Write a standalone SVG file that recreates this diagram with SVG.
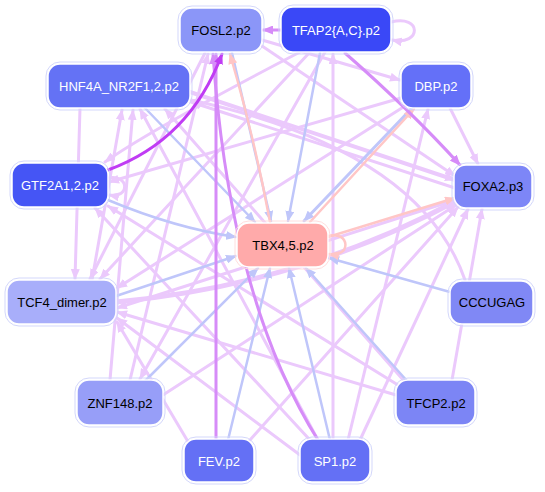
<svg xmlns="http://www.w3.org/2000/svg" width="545" height="492" viewBox="0 0 545 492">
<style>
text{font-family:"Liberation Sans",Arial,sans-serif;font-size:13px;text-anchor:middle;dominant-baseline:central}
.n rect.o{fill:none;stroke:#d3d7fb;stroke-width:1}
.n rect.i{stroke:#ffffff;stroke-width:1.5}
.w{fill:#ffffff}
.k{fill:#000000}
#edges path{fill:none;stroke-linecap:round}
.eb{stroke:#bfc6fa;stroke-width:2.5}
.es{stroke:#ffc6c6;stroke-width:2.5}
.ev{stroke:#d68cf8;stroke-width:3}
.ep{stroke:#c03cf4;stroke-width:3}
.el{stroke:#ebc9fc;stroke-width:3}
</style>
<defs>
<marker id="mb" markerUnits="userSpaceOnUse" markerWidth="11" markerHeight="9" refX="10" refY="4.5" orient="auto"><path d="M0,0L11,4.5L0,9z" fill="#bfc6fa"/></marker>
<marker id="ms" markerUnits="userSpaceOnUse" markerWidth="11" markerHeight="9" refX="10" refY="4.5" orient="auto"><path d="M0,0L11,4.5L0,9z" fill="#ffc6c6"/></marker>
<marker id="mv" markerUnits="userSpaceOnUse" markerWidth="11" markerHeight="9" refX="10" refY="4.5" orient="auto"><path d="M0,0L11,4.5L0,9z" fill="#d68cf8"/></marker>
<marker id="mp" markerUnits="userSpaceOnUse" markerWidth="11" markerHeight="9" refX="10" refY="4.5" orient="auto"><path d="M0,0L11,4.5L0,9z" fill="#c03cf4"/></marker>
<marker id="ml" markerUnits="userSpaceOnUse" markerWidth="11" markerHeight="9" refX="10" refY="4.5" orient="auto"><path d="M0,0L11,4.5L0,9z" fill="#ebc9fc"/></marker>
</defs>
<g id="edges">
<path class="el" marker-end="url(#ml)" d="M391,22C422,14 422,46 392,40"/>
<path class="el" marker-end="url(#ml)" d="M108,178C130,174 130,199 109,195"/>
<path class="el" marker-end="url(#ml)" d="M333,440L333,54"/>
<path class="el" marker-end="url(#ml)" d="M318,440L140,109"/>
<path class="el" marker-end="url(#ml)" d="M300,455L117,318"/>
<path class="el" marker-end="url(#ml)" d="M348,440L428,109"/>
<path class="el" marker-end="url(#ml)" d="M360,440L468,209"/>
<path class="el" marker-end="url(#ml)" d="M250,440L458,207"/>
<path class="el" marker-end="url(#ml)" d="M130,380L208,54"/>
<path class="el" marker-end="url(#ml)" d="M163,395L456,205"/>
<path class="el" marker-end="url(#ml)" d="M405,382L165,109"/>
<path class="el" marker-end="url(#ml)" d="M396,395L117,312"/>
<path class="el" marker-end="url(#ml)" d="M452,380L482,209"/>
<path class="el" marker-end="url(#ml)" d="M398,385L108,206"/>
<path class="el" marker-end="url(#ml)" d="M465,280Q420,150 191,100"/>
<path class="el" marker-end="url(#ml)" d="M405,106L117,288"/>
<path class="el" marker-end="url(#ml)" d="M450,108L478,164"/>
<path class="el" marker-end="url(#ml)" d="M401,98L109,182"/>
<path class="el" marker-end="url(#ml)" d="M300,52Q150,130 105,162"/>
<path class="el" marker-end="url(#ml)" d="M310,52L100,279"/>
<path class="el" marker-end="url(#ml)" d="M325,52L140,379"/>
<path class="el" marker-end="url(#ml)" d="M205,53L90,279"/>
<path class="el" marker-end="url(#ml)" d="M262,40L400,80"/>
<path class="el" marker-end="url(#ml)" d="M262,46L455,176"/>
<path class="el" marker-end="url(#ml)" d="M80,108L75,279"/>
<path class="el" marker-end="url(#ml)" d="M92,280L122,110"/>
<path class="el" marker-end="url(#ml)" d="M455,200L117,308"/>
<path class="el" marker-end="url(#ml)" d="M455,188L191,102"/>
<path class="el" marker-end="url(#ml)" d="M110,380L133,110"/>
<path class="el" marker-end="url(#ml)" d="M190,445L117,322"/>
<path class="el" marker-end="url(#ml)" d="M310,440L95,208"/>
<path class="el" style="stroke-width:4" marker-end="url(#ml)" d="M190,92L455,180"/>
<path class="el" style="stroke-width:5" marker-end="url(#ml)" d="M116,302Q300,285 458,200"/>
<path class="eb" marker-end="url(#mb)" d="M145,108L255,222"/>
<path class="eb" marker-end="url(#mb)" d="M232,53L271,221"/>
<path class="eb" marker-end="url(#mb)" d="M320,53L288,221"/>
<path class="eb" style="stroke-width:3" marker-end="url(#mb)" d="M412,108L304,221"/>
<path class="eb" marker-end="url(#mb)" d="M108,200Q175,228 236,237"/>
<path class="eb" marker-end="url(#mb)" d="M116,296L236,256"/>
<path class="eb" marker-end="url(#mb)" d="M450,292L329,258"/>
<path class="eb" marker-end="url(#mb)" d="M145,381L258,268"/>
<path class="eb" marker-end="url(#mb)" d="M228,440L270,268"/>
<path class="eb" marker-end="url(#mb)" d="M330,440L289,268"/>
<path class="eb" marker-end="url(#mb)" d="M408,382L306,268"/>
<path class="es" marker-end="url(#ms)" d="M270,222Q255,140 230,54"/>
<path class="es" marker-end="url(#ms)" d="M310,222L414,109"/>
<path class="es" marker-end="url(#ms)" d="M328,237L455,198"/>
<path class="es" marker-end="url(#ms)" d="M328,236C350,230 352,258 329,254"/>
<path class="ev" marker-end="url(#mv)" d="M281,30L263,30"/>
<path class="ev" marker-end="url(#mv)" d="M345,53Q410,110 460,165"/>
<path class="ev" marker-end="url(#mv)" d="M216,440L216,54"/>
<path class="ev" marker-end="url(#mv)" d="M318,440Q230,300 213,54"/>
<path class="ep" marker-end="url(#mp)" d="M108,170Q190,140 222,54"/>
</g>
<g id="FOSL2" class="n"><rect class="o" x="178" y="6" width="86" height="48" rx="14"/><rect class="i" x="180" y="8" width="82" height="44" rx="12" fill="#8b96f8"/><text class="k" x="221" y="30">FOSL2.p2</text></g>
<g id="TFAP2" class="n"><rect class="o" x="279" y="5" width="114" height="49" rx="14"/><rect class="i" x="281" y="7" width="110" height="45" rx="12" fill="#3a48f7"/><text class="w" x="336" y="30">TFAP2{A,C}.p2</text></g>
<g id="HNF4A" class="n"><rect class="o" x="46" y="62" width="146" height="48" rx="14"/><rect class="i" x="48" y="64" width="142" height="44" rx="12" fill="#6472f5"/><text class="w" x="119" y="86">HNF4A_NR2F1,2.p2</text></g>
<g id="DBP" class="n"><rect class="o" x="399" y="62" width="74" height="48" rx="14"/><rect class="i" x="401" y="64" width="70" height="44" rx="12" fill="#6470f8"/><text class="w" x="436" y="86">DBP.p2</text></g>
<g id="GTF2A1" class="n"><rect class="o" x="10" y="161" width="100" height="48" rx="14"/><rect class="i" x="12" y="163" width="96" height="44" rx="12" fill="#4555f5"/><text class="w" x="60" y="185">GTF2A1,2.p2</text></g>
<g id="FOXA2" class="n"><rect class="o" x="452" y="163" width="82" height="47" rx="14"/><rect class="i" x="454" y="165" width="78" height="43" rx="12" fill="#7d86f7"/><text class="k" x="493" y="186">FOXA2.p3</text></g>
<g id="TBX4" class="n"><rect class="o" x="235" y="221" width="95" height="48" rx="14" style="stroke:#ffdede"/><rect class="i" x="237" y="223" width="91" height="44" rx="12" fill="#ffaaaa"/><text class="k" x="283" y="245">TBX4,5.p2</text></g>
<g id="TCF4" class="n"><rect class="o" x="5" y="278" width="113" height="48" rx="14"/><rect class="i" x="7" y="280" width="109" height="44" rx="12" fill="#a8aefa"/><text class="k" x="62" y="302">TCF4_dimer.p2</text></g>
<g id="CCCUGAG" class="n"><rect class="o" x="448" y="279" width="87" height="47" rx="14"/><rect class="i" x="450" y="281" width="83" height="43" rx="12" fill="#8088f5"/><text class="k" x="492" y="302">CCCUGAG</text></g>
<g id="ZNF148" class="n"><rect class="o" x="75" y="378" width="90" height="49" rx="14"/><rect class="i" x="77" y="380" width="86" height="45" rx="12" fill="#979ef8"/><text class="k" x="120" y="403">ZNF148.p2</text></g>
<g id="TFCP2" class="n"><rect class="o" x="394" y="378" width="83" height="49" rx="14"/><rect class="i" x="396" y="380" width="79" height="45" rx="12" fill="#7c85f5"/><text class="k" x="436" y="403">TFCP2.p2</text></g>
<g id="FEV" class="n"><rect class="o" x="182" y="437" width="74" height="47" rx="14"/><rect class="i" x="184" y="439" width="70" height="43" rx="12" fill="#6470f5"/><text class="w" x="219" y="461">FEV.p2</text></g>
<g id="SP1" class="n"><rect class="o" x="298" y="437" width="74" height="47" rx="14"/><rect class="i" x="300" y="439" width="70" height="43" rx="12" fill="#6470f5"/><text class="w" x="335" y="461">SP1.p2</text></g>
</svg>
